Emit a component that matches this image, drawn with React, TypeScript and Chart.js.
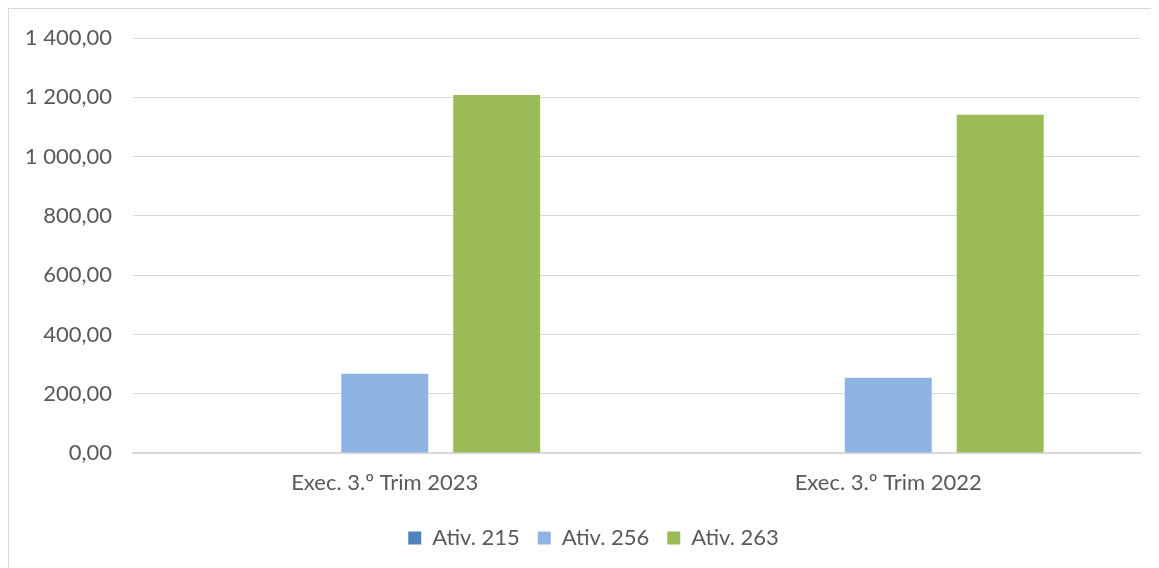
import React, { useEffect, useRef } from "react";
import { Chart, registerables } from "chart.js";

Chart.register(...registerables);

const categories = ["Exec. 3.º Trim 2023", "Exec. 3.º Trim 2022"];
const seriesNames = ["Ativ. 215", "Ativ. 256", "Ativ. 263"];
const ativ215 = [0, 1.5];
const ativ256 = [267, 254];
const ativ263 = [1208, 1141];
const seriesColors = ["#4F81BD", "#8EB4E3", "#9BBB59"];
const yTickValues = [0, 200, 400, 600, 800, 1000, 1200, 1400];
const yTickLabels = ["0,00", "200,00", "400,00", "600,00", "800,00", "1 000,00", "1 200,00", "1 400,00"];

const FONT = "Lato, 'Open Sans', sans-serif";
const TEXT = "#595959";
const GRID = "#D9D9D9";

const legendShift = {
  id: "legendShift",
  afterLayout(chart: any) {
    if (chart.legend) {
      chart.legend.left += 38;
    }
  },
};

export default function App() {
  const ref = useRef<HTMLCanvasElement | null>(null);

  useEffect(() => {
    if (!ref.current) return;
    const values = [ativ215, ativ256, ativ263];
    const chart = new Chart(ref.current, {
      type: "bar",
      data: {
        labels: categories,
        datasets: seriesNames.map((name, i) => ({
          label: name,
          data: values[i],
          backgroundColor: seriesColors[i],
          borderWidth: 0,
          categoryPercentage: 0.667,
          barPercentage: 0.777,
        })),
      },
      plugins: [legendShift],
      options: {
        animation: false,
        responsive: false,
        maintainAspectRatio: false,
        layout: { padding: { left: 0, right: 18, top: 29, bottom: 20 } },
        plugins: {
          tooltip: { enabled: false },
          legend: {
            position: "bottom",
            labels: {
              boxWidth: 13,
              boxHeight: 13,
              padding: 18,
              color: TEXT,
              font: { family: FONT, size: 22 },
            },
          },
        },
        scales: {
          x: {
            grid: { display: false, drawTicks: false },
            border: { display: true, color: GRID, width: 2 },
            ticks: { color: TEXT, font: { family: FONT, size: 22 }, padding: 17, maxRotation: 0 },
            afterFit: (scale: any) => {
              scale.height = 56;
            },
          },
          y: {
            min: 0,
            max: 1400,
            afterBuildTicks: (scale: any) => {
              scale.ticks = yTickValues.map((v) => ({ value: v }));
            },
            grid: { color: GRID, lineWidth: 1, drawTicks: false },
            border: { display: false },
            ticks: {
              color: TEXT,
              font: { family: FONT, size: 22 },
              padding: 21,
              callback: (v: any) => {
                const idx = yTickValues.indexOf(Number(v));
                return idx >= 0 ? yTickLabels[idx] : "";
              },
            },
            afterFit: (scale: any) => {
              scale.width = 124;
              scale.paddingTop = 0;
              scale.paddingBottom = 0;
            },
          },
        },
      },
    });
    return () => chart.destroy();
  }, []);

  return (
    <div style={{ width: 1149, height: 570, border: "1px solid #D9D9D9", background: "#fff" }}>
      <canvas ref={ref} width={1149} height={570} style={{ display: "block" }} />
    </div>
  );
}
